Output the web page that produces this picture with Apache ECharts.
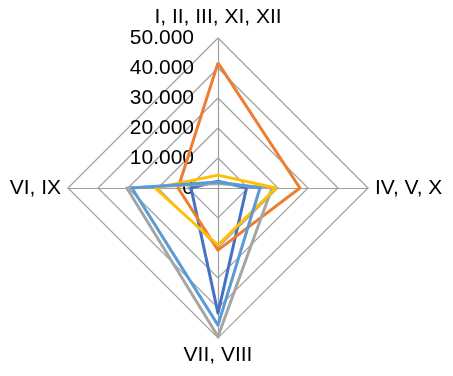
<!DOCTYPE html>
<html>
<head>
<meta charset="utf-8">
<script src="https://cdn.jsdelivr.net/npm/echarts@6/dist/echarts.min.js"></script>
<style>html,body{margin:0;padding:0;background:#fff}#c{width:453px;height:376px}</style>
</head>
<body>
<div id="c"></div>
<script>
// order: top, left, bottom, right
const categories = ['I, II, III, XI, XII', 'VI, IX', 'VII, VIII', 'IV, V, X'];
const tickLabels = ['0', '10.000', '20.000', '30.000', '40.000', '50.000'];
const seriesBlue = [2300, 9000, 41700, 9500];
const seriesOrange = [41700, 13300, 20700, 27300];
const seriesGray = [1500, 30400, 49500, 18000];
const seriesYellow = [4300, 21000, 19000, 19300];
const seriesLightBlue = [2000, 28700, 45700, 14000];
const seriesColors = ['#4472C4', '#ED7D31', '#A5A5A5', '#FFC000', '#5B9BD5'];

const allSeries = [seriesBlue, seriesOrange, seriesGray, seriesYellow, seriesLightBlue];
const font = 'Liberation Sans, Arial, sans-serif';
const chart = echarts.init(document.getElementById('c'));
chart.setOption({
  animation: false,
  radar: {
    center: [218, 188],
    radius: 150,
    shape: 'polygon',
    splitNumber: 5,
    startAngle: 90,
    nameGap: 7,
    axisName: { color: '#000', fontSize: 21, fontFamily: font },
    splitLine: { lineStyle: { color: '#9E9E9E', width: 1.2 } },
    splitArea: { show: false },
    axisLine: { lineStyle: { color: '#9E9E9E', width: 1.2 } },
    axisLabel: { show: false },
    indicator: categories.map((n, i) => {
      const ind = { name: n, min: 0, max: 50000 };
      if (i === 0) {
        ind.axisLabel = {
          show: true, color: '#000', fontSize: 21, fontFamily: font, margin: 24,
          formatter: v => tickLabels[Math.round(v / 10000)]
        };
      }
      return ind;
    })
  },
  series: [{
    type: 'radar',
    symbol: 'none',
    data: allSeries.map((d, i) => ({
      value: d,
      lineStyle: { color: seriesColors[i], width: 3 },
      itemStyle: { color: seriesColors[i] }
    }))
  }]
});
</script>
</body>
</html>
